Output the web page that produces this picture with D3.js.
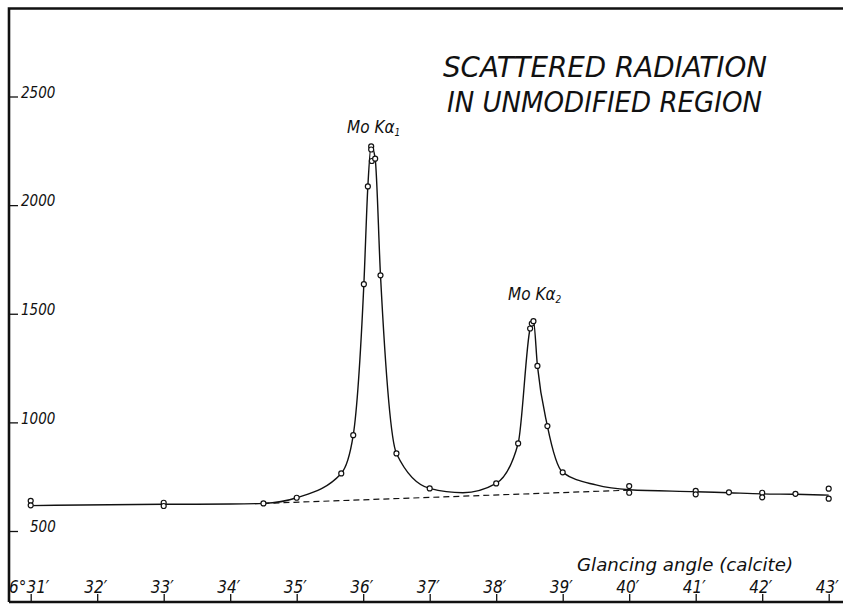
<!DOCTYPE html>
<html>
<head>
<meta charset="utf-8">
<script src="https://cdn.jsdelivr.net/npm/d3@7"></script>
<style>
  body { margin: 0; background: #fff; }
  text { font-family: "DejaVu Sans Condensed", "DejaVu Sans", sans-serif; font-style: oblique; fill: #111; }
</style>
</head>
<body>
<div id="chart"></div>
<script>
// measured points (glancing angle in minutes past 6°, counts)
const obsAngle = [31, 31, 33, 33, 34.5, 35, 35.67, 35.85, 36.01, 36.07, 36.12, 36.12, 36.13, 36.18, 36.26, 36.5, 37,
    38, 38.33, 38.51, 38.535, 38.56, 38.62, 38.77, 39, 40, 40, 41, 41, 41.5, 42, 42, 42.5, 43, 43];
const obsCount = [639, 618, 630, 615, 627, 653, 765, 941, 1636, 2086, 2270, 2256, 2203, 2214, 1677, 857, 696,
    719, 903, 1432, 1455, 1466, 1260, 983, 770, 707, 676, 685, 669, 678, 676, 655, 671, 695, 649];

// hand drawn curve through the points
const curveAngle = [31, 33, 34, 34.5, 35, 35.67, 35.85, 36.01, 36.07, 36.12, 36.18, 36.26, 36.5, 37, 37.5,
    38, 38.33, 38.51, 38.56, 38.62, 38.77, 39, 39.5, 40, 41, 41.5, 42, 42.5, 43];
const curveCount = [617, 623, 624, 627, 653, 765, 941, 1636, 2086, 2275, 2214, 1677, 857, 696, 676,
    719, 903, 1432, 1468, 1260, 983, 770, 712, 690, 681, 676, 671, 669, 665];

// dashed background line
const baseAngle = [34.5, 40];
const baseCount = [627, 688];

const xTicks = [31, 32, 33, 34, 35, 36, 37, 38, 39, 40, 41, 42, 43];
const xTickLabels = ["6°31′", "32′", "33′", "34′", "35′", "36′", "37′", "38′", "39′", "40′", "41′", "42′", "43′"];
const yTicks = [500, 1000, 1500, 2000, 2500];

const width = 843;
const height = 604;

const svg = d3.select("#chart").append("svg")
    .attr("width", width)
    .attr("height", height);

svg.append("rect").attr("width", width).attr("height", height).attr("fill", "#fff");

const x = d3.scaleLinear().domain([31, 43]).range([30.7, 828.7]);
const y = d3.scaleLinear().domain([500, 2500]).range([531, 96.5]);

// frame
const frame = svg.append("g").attr("stroke", "#111").attr("fill", "none");
frame.append("path").attr("d", "M9,602 L9,8.5 L843,8.5").attr("stroke-width", 2.6);
frame.append("line").attr("x1", 9).attr("x2", 843).attr("y1", 602).attr("y2", 602).attr("stroke-width", 2.6);

// y axis
const yAxis = svg.append("g")
    .attr("transform", "translate(9,0)")
    .call(d3.axisRight(y).tickValues(yTicks).tickSize(9).tickFormat(d => d));
yAxis.select(".domain").remove();
yAxis.selectAll(".tick line").attr("stroke", "#111").attr("stroke-width", 1.3);
yAxis.selectAll(".tick text")
    .attr("x", d => d === 500 ? 21 : 12)
    .attr("dy", "0.05em")
    .attr("font-size", 15)
    .attr("fill", "#111")
    .style("font-family", "'DejaVu Sans Condensed', 'DejaVu Sans', sans-serif")
    .style("font-style", "oblique");

// x axis
const xAxis = svg.append("g")
    .attr("transform", "translate(0,602)")
    .call(d3.axisTop(x).tickValues(xTicks).tickSize(8).tickPadding(1)
        .tickFormat((d, i) => xTickLabels[i]));
xAxis.select(".domain").remove();
xAxis.selectAll(".tick line").attr("stroke", "#111").attr("stroke-width", 1.3);
xAxis.selectAll(".tick text")
    .attr("x", -2)
    .attr("font-size", 17)
    .attr("fill", "#111")
    .style("font-family", "'DejaVu Sans Condensed', 'DejaVu Sans', sans-serif")
    .style("font-style", "oblique");

// background line
svg.append("path")
    .datum(d3.range(baseAngle.length))
    .attr("d", d3.line().x(i => x(baseAngle[i])).y(i => y(baseCount[i])))
    .attr("fill", "none")
    .attr("stroke", "#111")
    .attr("stroke-width", 1.2)
    .attr("stroke-dasharray", "6,4");

// curve
svg.append("path")
    .datum(d3.range(curveAngle.length))
    .attr("d", d3.line()
        .x(i => x(curveAngle[i]))
        .y(i => y(curveCount[i]))
        .curve(d3.curveMonotoneX))
    .attr("fill", "none")
    .attr("stroke", "#111")
    .attr("stroke-width", 1.4);

// points
svg.append("g").selectAll("circle")
    .data(d3.range(obsAngle.length))
    .join("circle")
    .attr("cx", i => x(obsAngle[i]))
    .attr("cy", i => y(obsCount[i]))
    .attr("r", 2.5)
    .attr("fill", "#fff")
    .attr("stroke", "#111")
    .attr("stroke-width", 1.2);

// peak labels
const k1 = svg.append("text").attr("x", 347).attr("y", 133).attr("font-size", 17);
k1.append("tspan").text("Mo Kα");
k1.append("tspan").attr("font-size", 10).attr("dy", 3).text("1");

const k2 = svg.append("text").attr("x", 508).attr("y", 300).attr("font-size", 17);
k2.append("tspan").text("Mo Kα");
k2.append("tspan").attr("font-size", 10).attr("dy", 3).text("2");

// title
svg.append("text")
    .attr("x", 443).attr("y", 77)
    .attr("font-size", 29)
    .attr("textLength", 324).attr("lengthAdjust", "spacingAndGlyphs")
    .text("SCATTERED RADIATION");
svg.append("text")
    .attr("x", 447).attr("y", 112)
    .attr("font-size", 29)
    .attr("textLength", 315).attr("lengthAdjust", "spacingAndGlyphs")
    .text("IN UNMODIFIED REGION");

// axis title
svg.append("text")
    .attr("x", 577).attr("y", 571)
    .attr("font-size", 18)
    .attr("textLength", 216).attr("lengthAdjust", "spacingAndGlyphs")
    .text("Glancing angle (calcite)");
</script>
</body>
</html>
